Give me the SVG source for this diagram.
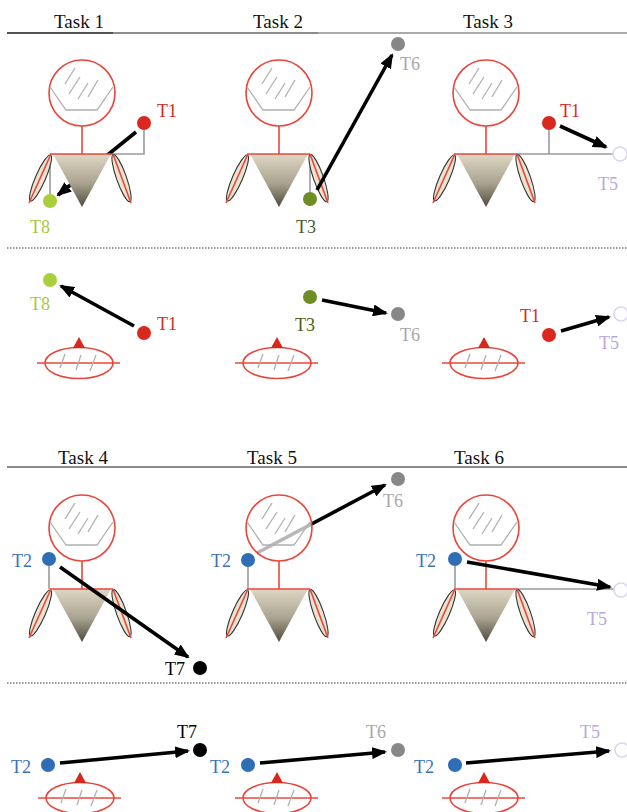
<svg xmlns="http://www.w3.org/2000/svg" xmlns:xlink="http://www.w3.org/1999/xlink" width="627" height="812" viewBox="0 0 627 812">
  <style>
    text { font-family: "Liberation Serif", "Times New Roman", serif; }
    .title { font-size: 19px; fill: #111; }
    .lbl { font-size: 18px; }
    .red { stroke: #e8463c; stroke-width: 1.6; fill: none; }
    .skull { stroke: #e8463c; stroke-width: 1.6; fill: #fff; fill-opacity: 0.72; }
    .hash { stroke: #b0b0b0; stroke-width: 1.3; fill: none; }
    .link { stroke: #9a9a9a; stroke-width: 1.6; fill: none; }
    .arrow { stroke: #000; stroke-width: 3.6; fill: none; marker-end: url(#head); }
    .sep { stroke: #999; stroke-width: 2; stroke-dasharray: 1.5 1.5; }
    .c-t1 { fill: #d9281d; }
    .c-t8 { fill: #a9cf3c; }
    .c-t3 { fill: #6d8d25; }
    .c-t6 { fill: #878787; }
    .c-t2 { fill: #2f6db5; }
    .c-t7 { fill: #000; }
    .c-t5 { fill: #fff; stroke: #ddd5ef; stroke-width: 1.6; }
    .l-t1 { fill: #d42a20; }
    .l-t8 { fill: #a6c83c; }
    .l-t3 { fill: #4b5c1c; }
    .l-t6 { fill: #a8a8a8; }
    .l-t2 { fill: #3a74b6; }
    .l-t7 { fill: #000; }
    .l-t5 { fill: #b9a8de; }
  </style>
  <defs>
    <marker id="head" markerUnits="userSpaceOnUse" markerWidth="15" markerHeight="12" viewBox="0 0 15 12" refX="13" refY="6" orient="auto">
      <path d="M0,0 L15,6 L0,12 z" fill="#000"/>
    </marker>
    <linearGradient id="torsoFill" x1="0" y1="0" x2="0" y2="1">
      <stop offset="0" stop-color="#ddd7c4"/>
      <stop offset="0.55" stop-color="#a9a38f"/>
      <stop offset="1" stop-color="#4e4a3e"/>
    </linearGradient>
    <!-- side view: head, origin at head centre -->
    <g id="headSide">
      <circle cx="0" cy="0" r="33" class="skull"/>
      <polyline points="-32,-6 -16,17 15,17 31,-6" class="hash"/>
      <line x1="-17" y1="-9" x2="-7" y2="-25" class="hash"/>
      <line x1="-13" y1="1" x2="-2" y2="-16" class="hash"/>
      <line x1="-4" y1="6" x2="6" y2="-10" class="hash"/>
      <line x1="6" y1="4" x2="16" y2="-13" class="hash"/>
    </g>
    <!-- side view: neck, shoulders, torso and arms -->
    <g id="bodySide">
      <line x1="0" y1="33" x2="0" y2="61" class="red"/>
      <polygon points="-29,61 29,61 0,114" fill="url(#torsoFill)"/>
      <line x1="-32" y1="61" x2="31" y2="61" class="red"/>
      <ellipse cx="-41.5" cy="85" rx="25" ry="5" transform="rotate(113.6 -41.5 85)" fill="#e9e3cf" stroke="#333" stroke-width="1.1"/>
      <line x1="-31" y1="61" x2="-53" y2="110" class="red"/>
      <ellipse cx="39.5" cy="85" rx="25" ry="5" transform="rotate(70.5 39.5 85)" fill="#e9e3cf" stroke="#333" stroke-width="1.1"/>
      <line x1="31" y1="61" x2="49" y2="110" class="red"/>
    </g>
    <!-- top view, origin at ellipse centre -->
    <g id="topView">
      <ellipse cx="0" cy="0" rx="34" ry="15.5" class="red"/>
      <line x1="-42" y1="0" x2="41" y2="0" class="red"/>
      <polygon points="-6,-15 6,-15 0,-26" fill="#d8281d"/>
      <line x1="-19" y1="5" x2="-14" y2="-9" class="hash"/>
      <line x1="-3" y1="7" x2="2" y2="-8" class="hash"/>
      <line x1="11" y1="8" x2="17" y2="-8" class="hash"/>
    </g>
  </defs>

  <rect width="627" height="812" fill="#fff"/>

  <!-- header rules and separators -->
  <g id="rules">
    <line x1="7" y1="33" x2="113" y2="33" stroke="#1a1a1a" stroke-width="1.6"/>
    <line x1="113" y1="33" x2="318" y2="33" stroke="#666" stroke-width="1.6"/>
    <line x1="318" y1="33" x2="627" y2="33" stroke="#8e8e8e" stroke-width="1.6"/>
    <line x1="7" y1="248" x2="627" y2="248" class="sep"/>
    <line x1="7" y1="467" x2="627" y2="467" stroke="#8a8a8a" stroke-width="2"/>
    <line x1="7" y1="683" x2="627" y2="683" class="sep"/>
  </g>

  <g id="titles">
    <text class="title" x="79" y="28" text-anchor="middle">Task 1</text>
    <text class="title" x="278" y="28" text-anchor="middle">Task 2</text>
    <text class="title" x="488" y="28" text-anchor="middle">Task 3</text>
    <text class="title" x="83" y="464" text-anchor="middle">Task 4</text>
    <text class="title" x="272" y="464" text-anchor="middle">Task 5</text>
    <text class="title" x="479" y="464" text-anchor="middle">Task 6</text>
  </g>

  <!-- figures -->
  <g id="figure-task1">
    <use xlink:href="#headSide" transform="translate(82,93)"/>
    <polyline points="144,130 144,154 112,154" class="link"/>
    <line x1="50" y1="155" x2="50" y2="194" class="link"/>
    <g id="connectors-task1-side"><line x1="136" y1="132" x2="58" y2="195" class="arrow"/></g>
    <use xlink:href="#bodySide" transform="translate(82,93)"/>
  </g>
  <g id="figure-task2">
    <use xlink:href="#headSide" transform="translate(279,93)"/>
    <line x1="310" y1="155" x2="310" y2="192" class="link"/>
    <use xlink:href="#bodySide" transform="translate(279,93)"/>
  </g>
  <g id="figure-task3">
    <use xlink:href="#headSide" transform="translate(486,93)"/>
    <polyline points="549,130 549,154" class="link"/>
    <line x1="517" y1="154" x2="613" y2="154" class="link"/>
    <use xlink:href="#bodySide" transform="translate(486,93)"/>
  </g>
  <g id="figure-task4">
    <use xlink:href="#headSide" transform="translate(82,528)"/>
    <line x1="49" y1="566" x2="49" y2="589" class="link"/>
    <use xlink:href="#bodySide" transform="translate(82,528)"/>
  </g>
  <g id="figure-task5">
    <line x1="248" y1="567" x2="248" y2="589" class="link"/>
    <g id="connectors-task5-side"><line x1="257" y1="553" x2="385" y2="485" class="arrow"/></g>
    <use xlink:href="#headSide" transform="translate(279,528)"/>
    <use xlink:href="#bodySide" transform="translate(279,528)"/>
  </g>
  <g id="figure-task6">
    <use xlink:href="#headSide" transform="translate(486,528)"/>
    <line x1="455" y1="566" x2="455" y2="589" class="link"/>
    <line x1="517" y1="589" x2="614" y2="589" class="link"/>
    <use xlink:href="#bodySide" transform="translate(486,528)"/>
  </g>

  <g id="topviews">
    <use xlink:href="#topView" transform="translate(79,363)"/>
    <use xlink:href="#topView" transform="translate(277,363)"/>
    <use xlink:href="#topView" transform="translate(484,363)"/>
    <use xlink:href="#topView" transform="translate(80,798)"/>
    <use xlink:href="#topView" transform="translate(277,798)"/>
    <use xlink:href="#topView" transform="translate(484,798)"/>
  </g>

  <!-- connectors drawn above the figures -->
  <g id="connectors">
    <line x1="317" y1="190" x2="392" y2="55" class="arrow"/>
    <line x1="560" y1="126" x2="606" y2="147" class="arrow"/>
    <line x1="134" y1="326" x2="61" y2="286" class="arrow"/>
    <line x1="322" y1="300" x2="386" y2="313" class="arrow"/>
    <line x1="561" y1="331" x2="609" y2="317" class="arrow"/>
    <line x1="60" y1="567" x2="188" y2="657" class="arrow"/>
    <line x1="467" y1="562" x2="610" y2="587" class="arrow"/>
    <line x1="60" y1="763" x2="188" y2="751" class="arrow"/>
    <line x1="260" y1="763" x2="385" y2="752" class="arrow"/>
    <line x1="466" y1="763" x2="609" y2="751" class="arrow"/>
  </g>

  <!-- targets -->
  <g id="t1-task1"><circle cx="144" cy="123" r="7" class="c-t1"/><text class="lbl l-t1" x="157" y="117">T1</text></g>
  <g id="t8-task1"><circle cx="50" cy="201" r="7" class="c-t8"/><text class="lbl l-t8" x="30" y="233">T8</text></g>
  <g id="t3-task2"><circle cx="310" cy="199" r="7" class="c-t3"/><text class="lbl l-t3" x="296" y="233">T3</text></g>
  <g id="t6-task2"><circle cx="398" cy="44" r="7" class="c-t6"/><text class="lbl l-t6" x="400" y="70">T6</text></g>
  <g id="t1-task3"><circle cx="549" cy="123" r="7" class="c-t1"/><text class="lbl l-t1" x="560" y="117">T1</text></g>
  <g id="t5-task3"><circle cx="620" cy="154" r="7" class="c-t5"/><text class="lbl l-t5" x="598" y="190">T5</text></g>

  <g id="t8-top1"><circle cx="50" cy="280" r="7" class="c-t8"/><text class="lbl l-t8" x="30" y="310">T8</text></g>
  <g id="t1-top1"><circle cx="144" cy="333" r="7" class="c-t1"/><text class="lbl l-t1" x="157" y="330">T1</text></g>
  <g id="t3-top2"><circle cx="310" cy="297" r="7" class="c-t3"/><text class="lbl l-t3" x="295" y="331">T3</text></g>
  <g id="t6-top2"><circle cx="398" cy="314" r="7" class="c-t6"/><text class="lbl l-t6" x="400" y="341">T6</text></g>
  <g id="t1-top3"><circle cx="549" cy="335" r="7" class="c-t1"/><text class="lbl l-t1" x="520" y="322">T1</text></g>
  <g id="t5-top3"><circle cx="621" cy="314" r="7" class="c-t5"/><text class="lbl l-t5" x="599" y="349">T5</text></g>

  <g id="t2-task4"><circle cx="49" cy="559" r="7" class="c-t2"/><text class="lbl l-t2" x="12" y="567">T2</text></g>
  <g id="t7-task4"><circle cx="200" cy="668" r="7" class="c-t7"/><text class="lbl l-t7" x="165" y="675">T7</text></g>
  <g id="t2-task5"><circle cx="248" cy="560" r="7" class="c-t2"/><text class="lbl l-t2" x="211" y="567">T2</text></g>
  <g id="t6-task5"><circle cx="398" cy="479" r="7" class="c-t6"/><text class="lbl l-t6" x="383" y="507">T6</text></g>
  <g id="t2-task6"><circle cx="455" cy="559" r="7" class="c-t2"/><text class="lbl l-t2" x="416" y="567">T2</text></g>
  <g id="t5-task6"><circle cx="621" cy="590" r="7" class="c-t5"/><text class="lbl l-t5" x="587" y="625">T5</text></g>

  <g id="t2-top4"><circle cx="48" cy="765" r="7" class="c-t2"/><text class="lbl l-t2" x="11" y="773">T2</text></g>
  <g id="t7-top4"><circle cx="200" cy="750" r="7" class="c-t7"/><text class="lbl l-t7" x="177" y="738">T7</text></g>
  <g id="t2-top5"><circle cx="248" cy="765" r="7" class="c-t2"/><text class="lbl l-t2" x="210" y="773">T2</text></g>
  <g id="t6-top5"><circle cx="398" cy="750" r="7" class="c-t6"/><text class="lbl l-t6" x="366" y="738">T6</text></g>
  <g id="t2-top6"><circle cx="455" cy="765" r="7" class="c-t2"/><text class="lbl l-t2" x="414" y="773">T2</text></g>
  <g id="t5-top6"><circle cx="622" cy="750" r="7" class="c-t5"/><text class="lbl l-t5" x="580" y="738">T5</text></g>
</svg>
